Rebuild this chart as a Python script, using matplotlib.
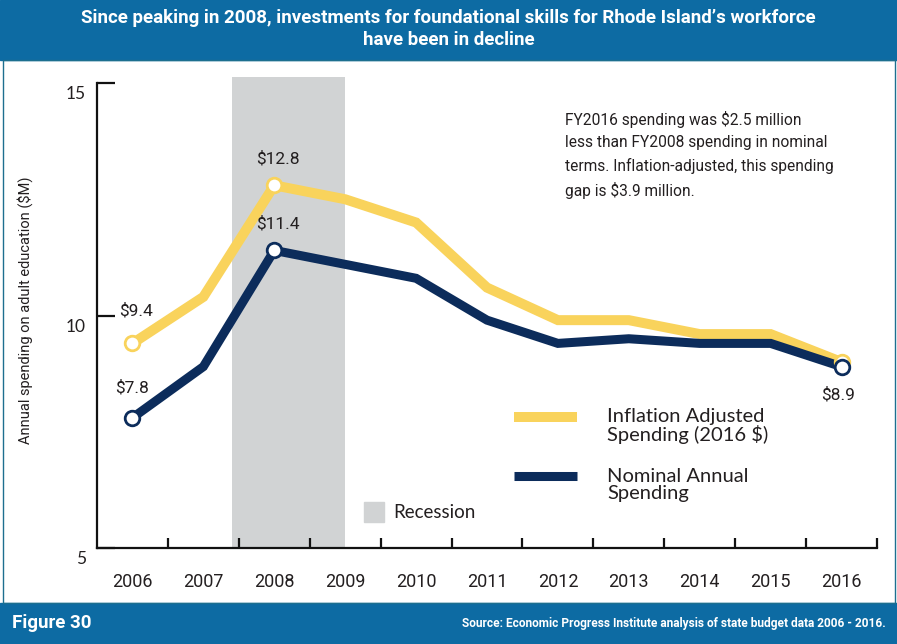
import matplotlib
matplotlib.use('Agg')
import matplotlib.pyplot as plt
from matplotlib import font_manager
from matplotlib.patches import Rectangle
from matplotlib.transforms import ScaledTranslation

# pick a narrow font if one is installed
installed = {f.name for f in font_manager.fontManager.ttflist}
narrow = 'Liberation Sans Narrow' if 'Liberation Sans Narrow' in installed else 'Roboto'
regular = 'Lato'

# data
years = [2006, 2007, 2008, 2009, 2010, 2011, 2012, 2013, 2014, 2015, 2016]
inflation_adjusted = [9.4, 10.4, 12.8, 12.5, 12.0, 10.6, 9.9, 9.9, 9.6, 9.6, 9.0]
nominal = [7.8, 8.9, 11.4, 11.1, 10.8, 9.9, 9.4, 9.5, 9.4, 9.4, 8.9]
marked_years = [2006, 2008, 2016]
recession = (2007.4, 2009.0)
y_ticks = [5, 10, 15]

yellow = '#f9d35c'
navy = '#0c2c5b'
grey = '#d1d3d4'
band_blue = '#0d6ba3'

fig = plt.figure(figsize=(8.97, 6.44), dpi=100)
W, H = 897, 644

# header / footer bands and frame
fig.patches.append(Rectangle((0, 1 - 60 / H), 1, 60 / H, transform=fig.transFigure,
                             color=band_blue, zorder=0))
fig.patches.append(Rectangle((0, 0), 1, 41 / H, transform=fig.transFigure,
                             color=band_blue, zorder=0))
fig.patches.append(Rectangle((2.5 / W, 41 / H), (W - 5) / W, (H - 101) / H,
                             transform=fig.transFigure, fill=False,
                             edgecolor='#1d6f8f', lw=1, zorder=0))

fig.text(0.5, 1 - 18 / H, "Since peaking in 2008, investments for foundational skills for Rhode Island\u2019s workforce",
         color='white', fontsize=13.5, fontweight='bold', family=narrow, ha='center', va='center')
fig.text(0.5, 1 - 40 / H, "have been in decline",
         color='white', fontsize=13.5, fontweight='bold', family=narrow, ha='center', va='center')
fig.text(12 / W, 21 / H, "Figure 30", color='white', fontsize=13.5, fontweight='bold',
         family=narrow, ha='left', va='center')
fig.text(886 / W, 21 / H, "Source: Economic Progress Institute analysis of state budget data 2006 - 2016.",
         color='white', fontsize=8.6, fontweight='bold', family=narrow, ha='right', va='center')

ax = fig.add_axes([97 / W, 1 - 548 / H, 780 / W, 465 / H])
ax.set_xlim(2005.5, 2016.5)
ax.set_ylim(5, 15)

# recession band
ax.axvspan(recession[0], recession[1], ymin=0, ymax=1.012, color=grey, lw=0,
           clip_on=False, zorder=1)

ax.plot(years, inflation_adjusted, color=yellow, lw=7.2, solid_joinstyle='miter', zorder=3)
ax.plot(years, nominal, color=navy, lw=6.5, solid_joinstyle='miter', zorder=4)
for x in marked_years:
    i = years.index(x)
    ax.plot(x, inflation_adjusted[i], 'o', ms=10.5, mfc='white', mec=yellow, mew=2, zorder=5)
for x in marked_years:
    i = years.index(x)
    ax.plot(x, nominal[i], 'o', ms=10.5, mfc='white', mec=navy, mew=2, zorder=6)

# value labels
lab = dict(fontsize=12.5, family=narrow, color='#231f20', ha='center', va='center')
ax.annotate(f"${inflation_adjusted[0]}", (2006, inflation_adjusted[0]), xytext=(4, 33),
            textcoords='offset pixels', **lab)
ax.annotate(f"${nominal[0]}", (2006, nominal[0]), xytext=(0, 30), textcoords='offset pixels', **lab)
ax.annotate(f"${inflation_adjusted[2]}", (2008, inflation_adjusted[2]), xytext=(4, 27),
            textcoords='offset pixels', **lab)
ax.annotate(f"${nominal[2]}", (2008, nominal[2]), xytext=(4, 27), textcoords='offset pixels', **lab)
ax.annotate(f"${nominal[-1]}", (2016, nominal[-1]), xytext=(-3, -28), textcoords='offset pixels', **lab)

ax.text(565 / W, 1 - 111 / H, "FY2016 spending was $2.5 million\nless than FY2008 spending in nominal\n"
        "terms. Inflation-adjusted, this spending\ngap is $3.9 million.",
        transform=fig.transFigure, fontsize=11.2, family=narrow, color='#231f20',
        ha='left', va='top', linespacing=1.6)

# legend drawn by hand
ax.plot([514 / W, 577 / W], [1 - 417 / H] * 2, transform=fig.transFigure, color=yellow,
        lw=7.2, solid_capstyle='butt', clip_on=False)
ax.plot([514 / W, 577 / W], [1 - 476 / H] * 2, transform=fig.transFigure, color=navy,
        lw=6.5, solid_capstyle='butt', clip_on=False)
ax.text(607 / W, 1 - 426 / H, "Inflation Adjusted\nSpending (2016 $)", transform=fig.transFigure,
        fontsize=14.5, family=regular, color='#231f20', ha='left', va='center', linespacing=0.95)
ax.text(607 / W, 1 - 485 / H, "Nominal Annual\nSpending", transform=fig.transFigure,
        fontsize=14.5, family=regular, color='#231f20', ha='left', va='center', linespacing=0.95)
fig.patches.append(Rectangle((364 / W, 1 - 522 / H), 20 / W, 20 / H, transform=fig.transFigure,
                             color=grey, zorder=2))
ax.text(393 / W, 1 - 513 / H, "Recession", transform=fig.transFigure, fontsize=13.5,
        family=regular, color='#231f20', ha='left', va='center')

# axes styling
for s in ['top', 'right']:
    ax.spines[s].set_visible(False)
for s in ['left', 'bottom']:
    ax.spines[s].set_linewidth(1.6)
    ax.spines[s].set_color('#111111')

ax.set_xticks([y + 0.5 for y in years])
ax.set_xticklabels([])
ax.set_xticks(years, minor=True)
ax.set_xticklabels([str(y) for y in years], minor=True, fontsize=13, family=narrow, color='#231f20')
ax.tick_params(axis='x', which='major', direction='in', length=7, width=1.6, color='#111111')
ax.tick_params(axis='x', which='minor', length=0, pad=18)

ax.set_yticks(y_ticks)
ax.set_yticklabels([str(v) for v in y_ticks], fontsize=12.5, family=regular, color='#231f20')
ax.tick_params(axis='y', direction='in', length=13, width=1.6, color='#111111', pad=8)
for t in ax.get_yticklabels():
    t.set_transform(t.get_transform() + ScaledTranslation(0, -7 / 72, fig.dpi_scale_trans))

ax.set_ylabel("Annual spending on adult education ($M)", fontsize=10.5, family=narrow,
              color='#231f20')
ax.yaxis.set_label_coords(-64 / 780, (548 - 310) / 465)

fig.savefig('out.png', dpi=100)
